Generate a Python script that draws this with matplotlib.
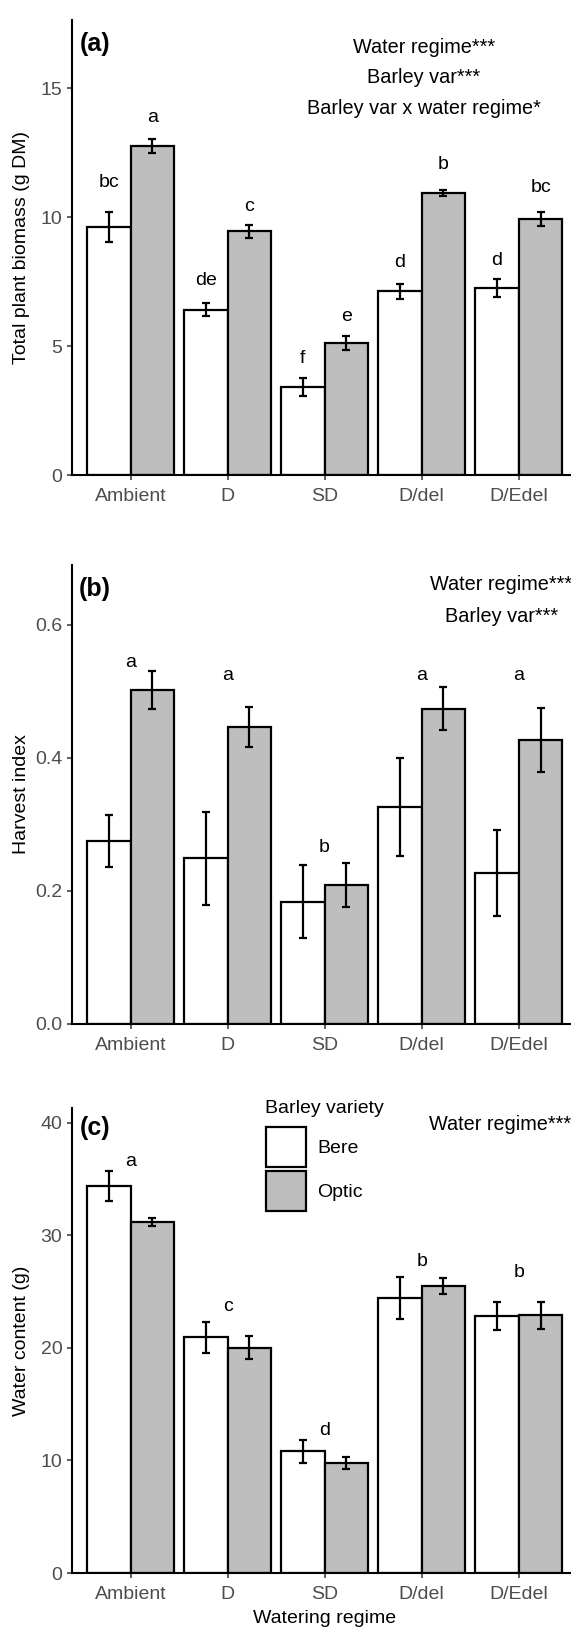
import numpy as np
import matplotlib
matplotlib.use('Agg')
import matplotlib.pyplot as plt
from matplotlib.patches import Patch

plt.rcParams['font.family'] = ['Liberation Sans', 'DejaVu Sans']

W, H = 571, 1627

regimes = ['Ambient', 'D', 'SD', 'D/del', 'D/Edel']
varieties = ['Bere', 'Optic']
bere_color = 'white'
optic_color = '#BEBEBE'

# (a) total plant biomass
biomass_bere = [9.63, 6.41, 3.42, 7.12, 7.26]
biomass_bere_se = [0.58, 0.25, 0.35, 0.30, 0.35]
biomass_optic = [12.76, 9.45, 5.11, 10.92, 9.91]
biomass_optic_se = [0.26, 0.25, 0.28, 0.12, 0.27]
biomass_letters_bere = ['bc', 'de', 'f', 'd', 'd']
biomass_letters_optic = ['a', 'c', 'e', 'b', 'bc']
biomass_letter_h_bere = [11.15, 7.35, 4.35, 8.06, 8.13]
biomass_letter_h_optic = [13.67, 10.25, 5.97, 11.87, 10.96]
biomass_stats = ['Water regime***', 'Barley var***', 'Barley var x water regime*']

# (b) harvest index
hi_bere = [0.275, 0.249, 0.184, 0.326, 0.227]
hi_bere_se = [0.039, 0.070, 0.055, 0.074, 0.065]
hi_optic = [0.502, 0.447, 0.2085, 0.474, 0.427]
hi_optic_se = [0.028, 0.030, 0.033, 0.032, 0.048]
hi_letters = ['a', 'a', 'b', 'a', 'a']
hi_letter_h = [0.537, 0.517, 0.258, 0.517, 0.517]
hi_stats = ['Water regime***', 'Barley var***']

# (c) water content
wc_bere = [34.38, 20.92, 10.82, 24.44, 22.81]
wc_bere_se = [1.36, 1.37, 1.03, 1.88, 1.27]
wc_optic = [31.18, 20.0, 9.77, 25.49, 22.88]
wc_optic_se = [0.36, 1.03, 0.51, 0.72, 1.21]
wc_letters = ['a', 'c', 'd', 'b', 'b']
wc_letter_h = [36.18, 23.27, 12.25, 27.29, 26.3]
wc_stats = ['Water regime***']

FS = 14
LW = 1.6
x = np.arange(1, len(regimes) + 1)
bw = 0.45

fig = plt.figure(figsize=(W / 100, H / 100), dpi=100)

# axes in pixel coords (top, bottom) -> figure fraction
def px_axes(top, bottom):
    left, right = 72.3, 576.9
    return fig.add_axes([left / W, 1 - bottom / H, (right - left) / W, (bottom - top) / H])

def draw_panel(ax, bere, bere_se, optic, optic_se, ymax, yticks, ylabels, ylab):
    ax.bar(x - bw / 2, bere, bw, color=bere_color, edgecolor='black', linewidth=LW, zorder=2)
    ax.bar(x + bw / 2, optic, bw, color=optic_color, edgecolor='black', linewidth=LW, zorder=2)
    ax.errorbar(x - bw / 2, bere, yerr=bere_se, fmt='none', ecolor='black',
                elinewidth=LW, capsize=3.2, capthick=LW, zorder=3)
    ax.errorbar(x + bw / 2, optic, yerr=optic_se, fmt='none', ecolor='black',
                elinewidth=LW, capsize=3.2, capthick=LW, zorder=3)
    ax.set_xlim(0.4, 5.6)
    ax.set_ylim(0, ymax)
    ax.set_xticks(x)
    ax.set_xticklabels(regimes)
    ax.set_yticks(yticks)
    ax.set_yticklabels(ylabels)
    for s in ['top', 'right']:
        ax.spines[s].set_visible(False)
    for s in ['left', 'bottom']:
        ax.spines[s].set_linewidth(1.5)
    ax.tick_params(axis='both', length=3.6, width=1.1, color='#333333',
                   labelcolor='#4D4D4D', labelsize=FS)
    ax.tick_params(axis='x', pad=5.5)
    ax.tick_params(axis='y', pad=3.5)
    ax.set_ylabel(ylab, fontsize=FS)
    ax.yaxis.label.set_va('center')
    ax.yaxis.set_label_coords(-(72.3 - 21) / 504.6, 0.5)
    ax.patch.set_alpha(0)

# ---- (a)
ax1 = px_axes(20, 475)
draw_panel(ax1, biomass_bere, biomass_bere_se, biomass_optic, biomass_optic_se,
           17.64, [0, 5, 10, 15], ['0', '5', '10', '15'], 'Total plant biomass (g DM)')
for i in range(len(regimes)):
    ax1.text(x[i] - bw / 2, biomass_letter_h_bere[i], biomass_letters_bere[i],
             ha='center', va='baseline', fontsize=FS)
    ax1.text(x[i] + bw / 2, biomass_letter_h_optic[i], biomass_letters_optic[i],
             ha='center', va='baseline', fontsize=FS)
for t, yy in zip(biomass_stats, [16.35, 15.18, 14.0]):
    ax1.text(4.02, yy, t, ha='center', va='baseline', fontsize=14.3)
ax1.text(0.48, 16.45, '(a)', ha='left', va='baseline', fontsize=18, fontweight='bold')

# ---- (b)
ax2 = px_axes(565, 1024)
draw_panel(ax2, hi_bere, hi_bere_se, hi_optic, hi_optic_se,
           0.69, [0, 0.2, 0.4, 0.6], ['0.0', '0.2', '0.4', '0.6'], 'Harvest index')
for i in range(len(regimes)):
    ax2.text(x[i], hi_letter_h[i], hi_letters[i], ha='center', va='baseline', fontsize=FS)
for t, yy in zip(hi_stats, [0.652, 0.605]):
    ax2.text(4.82, yy, t, ha='center', va='baseline', fontsize=14.3)
ax2.text(0.47, 0.644, '(b)', ha='left', va='baseline', fontsize=18, fontweight='bold')

# ---- (c)
ax3 = px_axes(1108, 1573)
draw_panel(ax3, wc_bere, wc_bere_se, wc_optic, wc_optic_se,
           41.3, [0, 10, 20, 30, 40], ['0', '10', '20', '30', '40'], 'Water content (g)')
for i in range(len(regimes)):
    ax3.text(x[i], wc_letter_h[i], wc_letters[i], ha='center', va='baseline', fontsize=FS)
for t, yy in zip(wc_stats, [39.35]):
    ax3.text(4.81, yy, t, ha='center', va='baseline', fontsize=14.3)
ax3.text(0.48, 38.86, '(c)', ha='left', va='baseline', fontsize=18, fontweight='bold')
ax3.set_xlabel('Watering regime', fontsize=FS)
ax3.xaxis.set_label_coords(0.5, -0.079)

# legend
handles = [Patch(facecolor=c, edgecolor='black', linewidth=LW, label=v)
           for v, c in zip(varieties, [bere_color, optic_color])]
leg = ax3.legend(handles=handles, loc='upper left', frameon=False, fontsize=FS,
                 bbox_to_anchor=(266 / W, 1 - 1126.7 / H), bbox_transform=fig.transFigure,
                 borderpad=0, borderaxespad=0, handlelength=2.06, handleheight=2.79,
                 handletextpad=0.58, labelspacing=0.22)
fig.text(265 / W, 1 - 1112.7 / H, 'Barley variety', ha='left', va='baseline', fontsize=FS)

fig.savefig('out.png', dpi=100)
